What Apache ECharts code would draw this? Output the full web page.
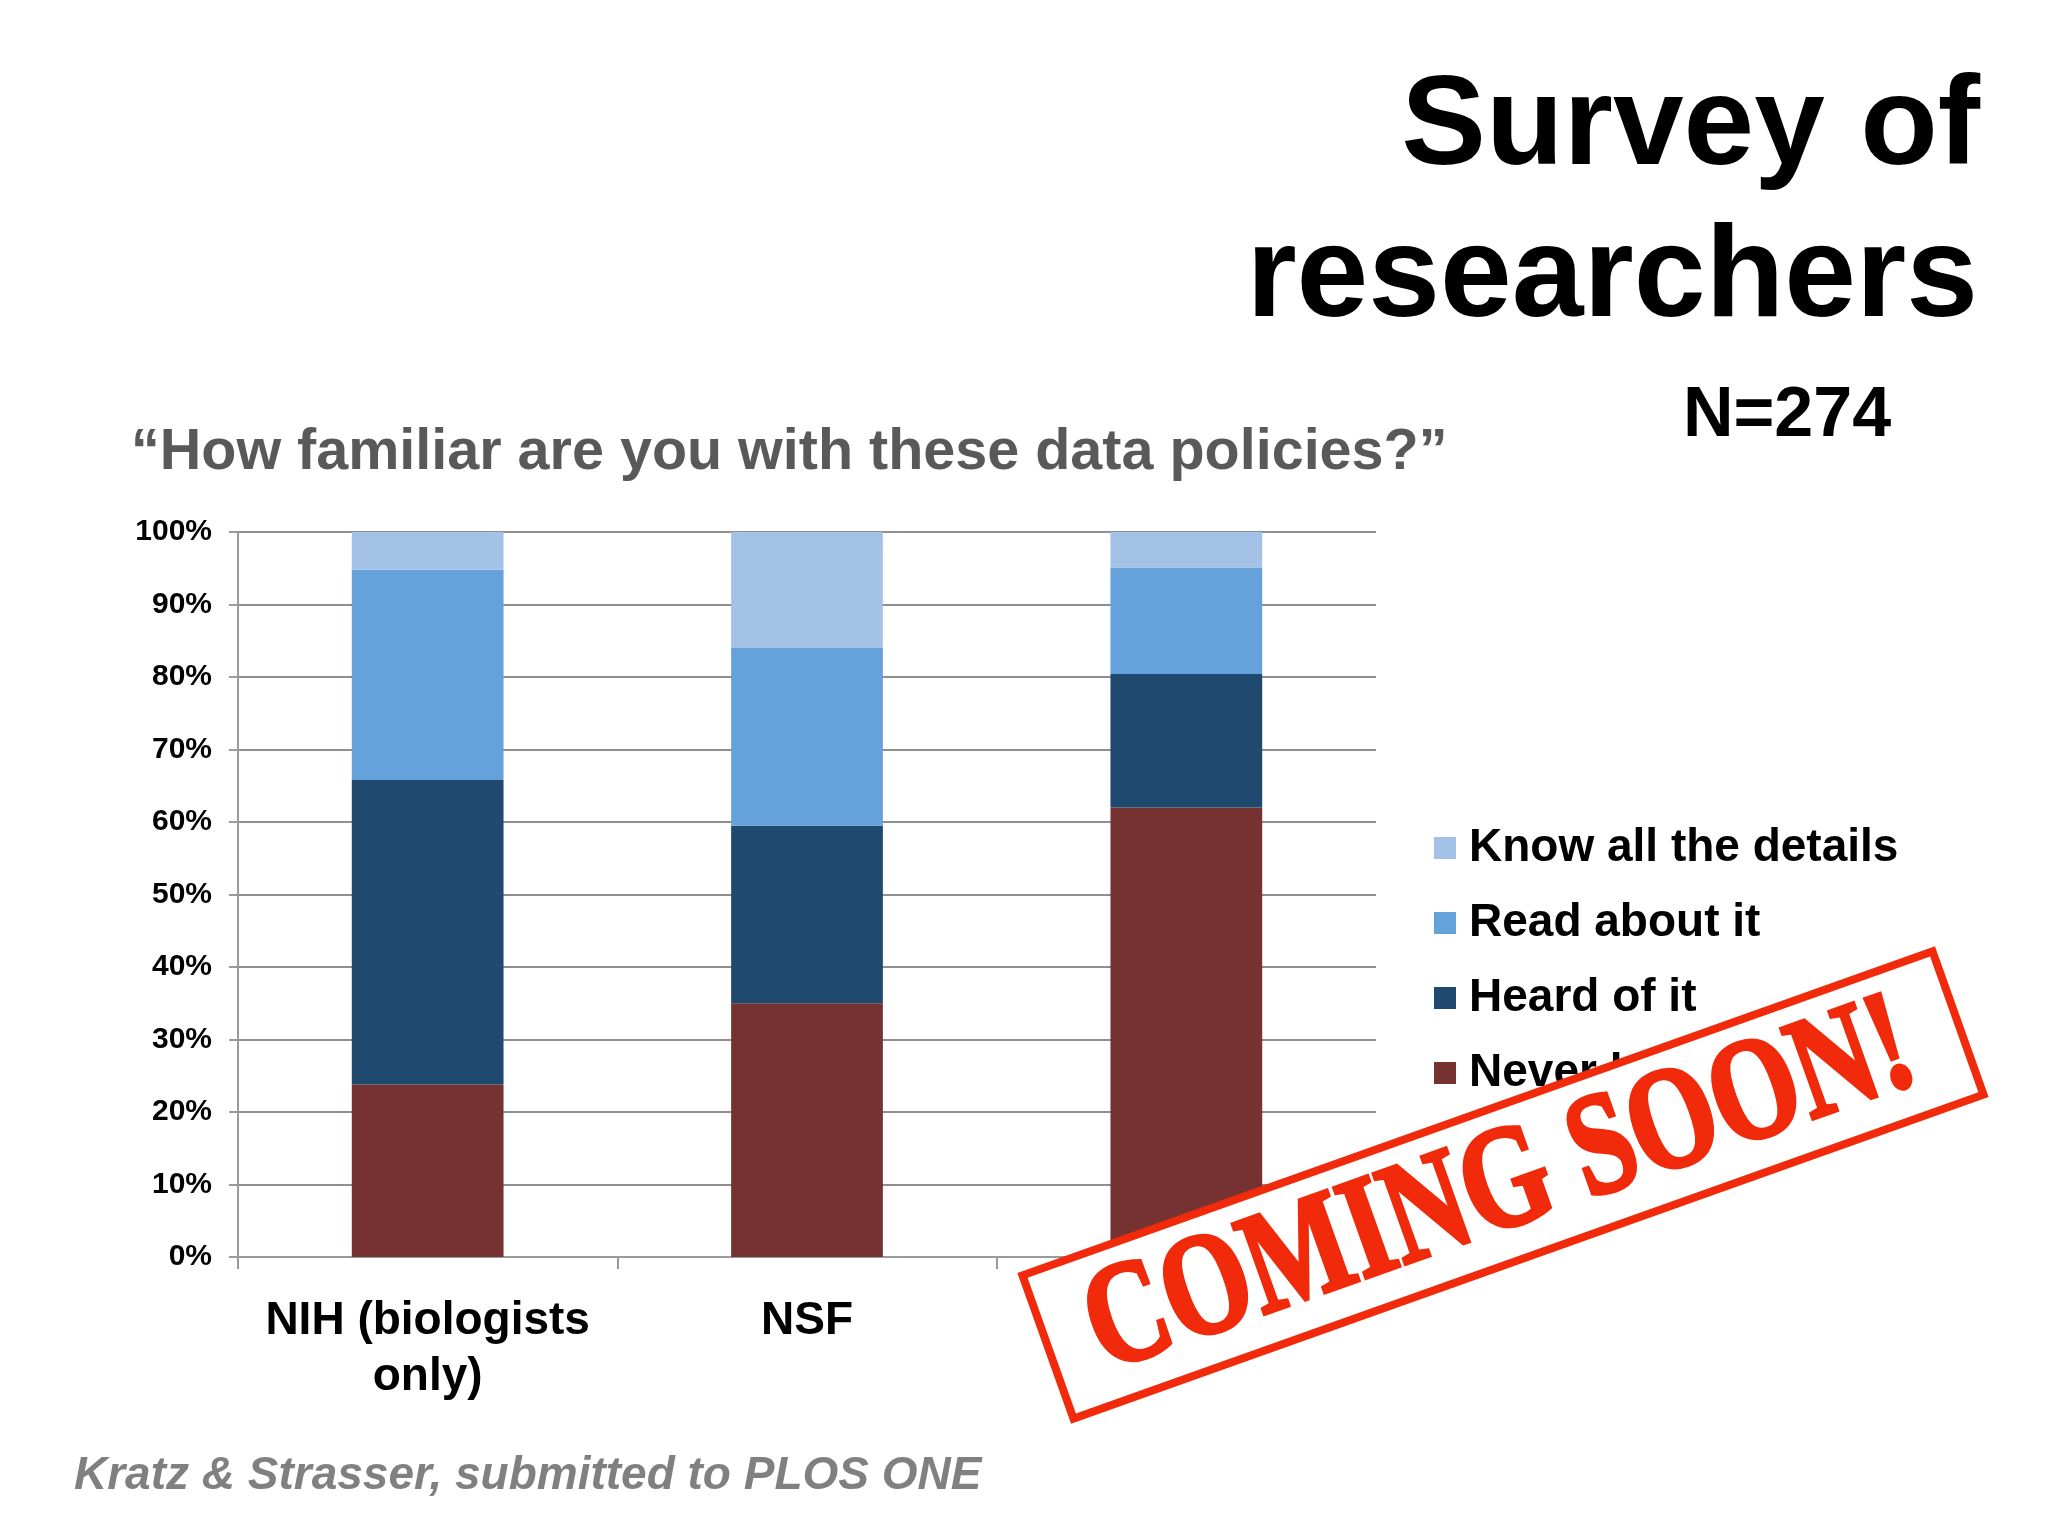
<!DOCTYPE html>
<html>
<head>
<meta charset="utf-8">
<script src="https://cdn.jsdelivr.net/npm/echarts@6/dist/echarts.min.js"></script>
<style>
html,body{margin:0;padding:0;background:#fff;}
#chart{width:2048px;height:1536px;}
</style>
</head>
<body>
<div id="chart"></div>
<script>
// ---- data ----
var categories = ['NIH (biologists\nonly)', 'NSF', 'PLOS'];
var seriesNames = ['Never heard of it', 'Heard of it', 'Read about it', 'Know all the details'];
var neverHeard = [23.8, 35.0, 62.0];
var heardOf = [42.0, 24.5, 18.4];
var readAbout = [29.0, 24.5, 14.7];
var knowDetails = [5.2, 16.0, 4.9];
var yTickValues = [0, 10, 20, 30, 40, 50, 60, 70, 80, 90, 100];

var colors = ['#763131', '#1F496E', '#65A1DB', '#A3C2E6'];
var values = [neverHeard, heardOf, readAbout, knowDetails];

var chart = echarts.init(document.getElementById('chart'), null, {renderer: 'canvas'});
var FONT = '"Liberation Sans", Arial, Helvetica, sans-serif';

var series = seriesNames.map(function (name, i) {
  return {
    name: name,
    type: 'bar',
    stack: 'total',
    barWidth: '40%',
    data: values[i],
    itemStyle: {color: colors[i]},
    emphasis: {disabled: true}
  };
});

var option = {
  backgroundColor: '#ffffff',
  animation: false,
  textStyle: {fontFamily: FONT},
  grid: {left: 238, top: 532, width: 1138, height: 725, containLabel: false},
  xAxis: {
    type: 'category',
    data: categories,
    axisLine: {show: true, lineStyle: {color: '#9a9a9a', width: 2}},
    axisTick: {show: true, alignWithLabel: false, length: 12, lineStyle: {color: '#9a9a9a', width: 2}},
    axisLabel: {
      interval: 0, margin: 36, color: '#000', fontSize: 46, fontWeight: 'bold',
      fontFamily: FONT, lineHeight: 56
    },
    splitLine: {show: false}
  },
  yAxis: {
    type: 'value',
    min: yTickValues[0],
    max: yTickValues[yTickValues.length - 1],
    interval: 10,
    axisLine: {show: true, lineStyle: {color: '#9a9a9a', width: 2}},
    axisTick: {show: true, length: 9, lineStyle: {color: '#9a9a9a', width: 2}},
    axisLabel: {
      formatter: '{value}%', margin: 26, color: '#000', fontSize: 30,
      fontWeight: 'bold', fontFamily: FONT
    },
    splitLine: {show: true, lineStyle: {color: '#8f8f8f', width: 2}}
  },
  legend: {
    data: ['Know all the details', 'Read about it', 'Heard of it', 'Never heard of it'],
    orient: 'vertical',
    left: 1434,
    top: 825,
    padding: 0,
    itemWidth: 22,
    itemHeight: 22,
    itemGap: 29,
    icon: 'rect',
    selectedMode: false,
    textStyle: {
      fontSize: 46, fontWeight: 'bold', color: '#000', fontFamily: FONT,
      lineHeight: 46, padding: [0, 0, 0, 8]
    }
  },
  graphic: [
    {
      type: 'text', z: 50,
      style: {text: 'Survey of', x: 1980, y: 129, align: 'right', verticalAlign: 'middle',
        font: 'bold 127px ' + FONT, fill: '#000'}
    },
    {
      type: 'text', z: 50,
      style: {text: 'researchers', x: 1978, y: 280, align: 'right', verticalAlign: 'middle',
        font: 'bold 129px ' + FONT, fill: '#000'}
    },
    {
      type: 'text', z: 50,
      style: {text: 'N=274', x: 1787, y: 417, align: 'center', verticalAlign: 'middle',
        font: 'bold 70px ' + FONT, fill: '#000'}
    },
    {
      type: 'text', z: 50,
      style: {text: '\u201CHow familiar are you with these data policies?\u201D', x: 131, y: 453,
        align: 'left', verticalAlign: 'middle', font: 'bold 57.5px ' + FONT, fill: '#595959'}
    },
    {
      type: 'text', z: 50,
      style: {text: 'Kratz & Strasser, submitted to PLOS ONE', x: 74, y: 1476,
        align: 'left', verticalAlign: 'middle', font: 'italic bold 46px ' + FONT, fill: '#808080'}
    },
    {
      type: 'group',
      x: 1503, y: 1185,
      rotation: 19.6 * Math.PI / 180,
      z: 100,
      children: [
        {
          type: 'rect', z: 100,
          shape: {x: -483, y: -76, width: 966, height: 152},
          style: {fill: '#ffffff', stroke: '#F02A0A', lineWidth: 8}
        },
        {
          type: 'text', z: 101,
          x: -4, y: 4, scaleX: 0.8, scaleY: 1.04,
          style: {text: 'COMING SOON!', x: 0, y: 0, align: 'center', verticalAlign: 'middle',
            font: 'bold 140px "Liberation Serif", "Times New Roman", serif', fill: '#F02A0A',
            stroke: '#F02A0A', lineWidth: 4}
        }
      ]
    }
  ],
  series: series
};

chart.setOption(option);
</script>
</body>
</html>
